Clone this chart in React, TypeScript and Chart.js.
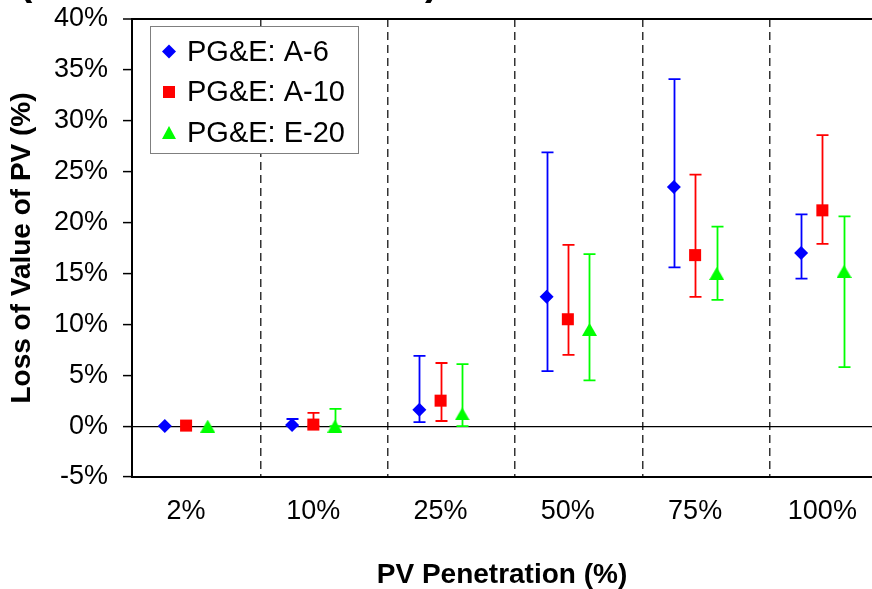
import React, { useEffect, useRef } from 'react';
import { Chart, registerables } from 'chart.js';

Chart.register(...registerables);

// ---------- data ----------
const categories = ['2%', '10%', '25%', '50%', '75%', '100%'];
const seriesNames = ['PG&E: A-6', 'PG&E: A-10', 'PG&E: E-20'];

const a6Values = [0.0, 0.1, 1.6, 12.7, 23.5, 17.0];
const a6High = [0.0, 0.7, 6.9, 26.9, 34.1, 20.8];
const a6Low = [0.0, 0.0, 0.4, 5.4, 15.6, 14.5];

const a10Values = [0.05, 0.15, 2.5, 10.5, 16.8, 21.2];
const a10High = [0.05, 1.3, 6.2, 17.8, 24.7, 28.6];
const a10Low = [0.05, 0.0, 0.5, 7.0, 12.7, 17.9];

const e20Values = [0.0, 0.0, 1.2, 9.5, 15.0, 15.2];
const e20High = [0.0, 1.7, 6.1, 16.9, 19.6, 20.6];
const e20Low = [0.0, 0.0, 0.0, 4.5, 12.4, 5.8];

const yTickMin = -5;
const yTickMax = 40;
const yTickStep = 5;

// ---------- layout / style ----------
const categoryPositions = [1, 2, 3, 4, 5, 6];
const dividerPositions = [1.585, 2.585, 3.585, 4.585, 5.585];
const seriesOffsets = [-0.167, 0, 0.17];
const colors = ['#0000FF', '#FF0000', '#00FF00'];
const FONT = "'Liberation Sans', Arial, Helvetica, sans-serif";

function makeTriangle(color: string): HTMLCanvasElement {
  const c = document.createElement('canvas');
  c.width = 15;
  c.height = 13;
  const g = c.getContext('2d')!;
  g.fillStyle = color;
  g.beginPath();
  g.moveTo(7.5, 0);
  g.lineTo(15, 13);
  g.lineTo(0, 13);
  g.closePath();
  g.fill();
  return c;
}

const isDivider = (v: number) => dividerPositions.some((d) => Math.abs(d - v) < 1e-6);

const errorBarPlugin = {
  id: 'errorBars',
  beforeDatasetsDraw(chart: any) {
    const ctx = chart.ctx;
    const yScale = chart.scales.y;
    chart.data.datasets.forEach((ds: any, i: number) => {
      const meta = chart.getDatasetMeta(i);
      meta.data.forEach((el: any, j: number) => {
        const hi = ds.errHigh[j];
        const lo = ds.errLow[j];
        if (Math.abs(hi - lo) < 0.01) return;
        const x = Math.round(el.x) + 0.5;
        const yH = yScale.getPixelForValue(hi);
        const yL = yScale.getPixelForValue(lo);
        ctx.save();
        ctx.strokeStyle = ds.borderColor;
        ctx.lineWidth = 1.8;
        ctx.beginPath();
        ctx.moveTo(x, yH);
        ctx.lineTo(x, yL);
        ctx.moveTo(x - 6, yH);
        ctx.lineTo(x + 6, yH);
        ctx.moveTo(x - 6, yL);
        ctx.lineTo(x + 6, yL);
        ctx.stroke();
        ctx.restore();
      });
    });
  },
};

const legendPlugin = {
  id: 'boxLegend',
  afterDraw(chart: any) {
    const ctx = chart.ctx;
    const left = 150.5;
    const top = 26.5;
    const w = 208;
    const h = 127;
    ctx.save();
    ctx.fillStyle = '#FFFFFF';
    ctx.fillRect(left, top, w, h);
    ctx.strokeStyle = '#7F7F7F';
    ctx.lineWidth = 1;
    ctx.strokeRect(left, top, w, h);
    const rows = [51.5, 92, 133];
    chart.data.datasets.forEach((ds: any, i: number) => {
      const cy = rows[i];
      const cx = 169;
      ctx.fillStyle = colors[i];
      ctx.beginPath();
      if (i === 0) {
        ctx.moveTo(cx, cy - 7);
        ctx.lineTo(cx + 7, cy);
        ctx.lineTo(cx, cy + 7);
        ctx.lineTo(cx - 7, cy);
      } else if (i === 1) {
        ctx.rect(cx - 6, cy - 6, 12, 12);
      } else {
        ctx.moveTo(cx, cy - 7);
        ctx.lineTo(cx + 7, cy + 6);
        ctx.lineTo(cx - 7, cy + 6);
      }
      ctx.closePath();
      ctx.fill();
      ctx.fillStyle = '#000000';
      ctx.font = `29px ${FONT}`;
      ctx.textAlign = 'left';
      ctx.textBaseline = 'middle';
      ctx.fillText(ds.label, 187, cy + 1);
    });
    ctx.restore();
  },
};

const clippedTitlePlugin = {
  id: 'clippedTitle',
  afterDraw(chart: any) {
    const ctx = chart.ctx;
    ctx.save();
    ctx.fillStyle = '#000000';
    ctx.font = `bold 40px ${FONT}`;
    ctx.textAlign = 'left';
    ctx.textBaseline = 'alphabetic';
    ctx.fillText('(', 19, -5);
    ctx.fillText(')', 425, -5);
    ctx.restore();
  },
};

export default function App() {
  const canvasRef = useRef<HTMLCanvasElement | null>(null);

  useEffect(() => {
    if (!canvasRef.current) return;
    const valueSets = [a6Values, a10Values, e20Values];
    const highSets = [a6High, a10High, e20High];
    const lowSets = [a6Low, a10Low, e20Low];
    const styles: any[] = ['rectRot', 'rect', makeTriangle(colors[2])];
    const radii = [7, 8.5, 8];

    const datasets = seriesNames.map((name, i) => ({
      label: name,
      data: valueSets[i].map((v, j) => ({ x: categoryPositions[j] + seriesOffsets[i], y: v })),
      errHigh: highSets[i],
      errLow: lowSets[i],
      showLine: false,
      pointStyle: styles[i],
      pointRadius: radii[i],
      pointBackgroundColor: colors[i],
      pointBorderColor: colors[i],
      pointBorderWidth: 0,
      backgroundColor: colors[i],
      borderColor: colors[i],
    }));

    const chart = new Chart(canvasRef.current, {
      type: 'scatter',
      data: { datasets } as any,
      plugins: [errorBarPlugin, legendPlugin, clippedTitlePlugin],
      options: {
        responsive: false,
        animation: false,
        devicePixelRatio: 1,
        layout: { autoPadding: false, padding: { top: 19, right: 0, bottom: 0, left: 0 } },
        plugins: {
          legend: { display: false },
          tooltip: { enabled: false },
          title: { display: false },
        },
        scales: {
          x: {
            type: 'linear',
            min: 0.575,
            max: 6.39,
            afterBuildTicks: (scale: any) => {
              scale.ticks = [...categoryPositions, ...dividerPositions]
                .sort((a, b) => a - b)
                .map((v) => ({ value: v }));
            },
            afterFit: (scale: any) => {
              scale.height = 112;
              scale.paddingLeft = 0;
              scale.paddingRight = 0;
            },
            ticks: {
              autoSkip: false,
              maxRotation: 0,
              padding: 18,
              color: '#000',
              font: { family: FONT, size: 27 },
              callback: (value: any) => {
                const idx = categoryPositions.findIndex((p) => Math.abs(p - value) < 1e-6);
                return idx >= 0 ? categories[idx] : '';
              },
            },
            grid: {
              display: true,
              drawOnChartArea: true,
              drawTicks: false,
              lineWidth: 1.5,
              color: (c: any) => (c.tick && isDivider(c.tick.value) ? '#333333' : 'rgba(0,0,0,0)'),
            },
            border: { display: true, color: '#000', width: 2, dash: [8, 5] },
            title: {
              display: true,
              text: 'PV Penetration (%)',
              color: '#000',
              font: { family: FONT, size: 28, weight: 'bold' },
              padding: { top: 0, bottom: -3 },
            },
          },
          y: {
            type: 'linear',
            min: yTickMin,
            max: yTickMax,
            afterFit: (scale: any) => {
              scale.width = 132;
              scale.paddingTop = 0;
              scale.paddingBottom = 0;
            },
            ticks: {
              stepSize: yTickStep,
              padding: 15,
              color: '#000',
              font: { family: FONT, size: 27 },
              callback: (v: any) => `${v}%`,
            },
            grid: {
              display: true,
              drawOnChartArea: true,
              drawTicks: true,
              tickLength: 9,
              tickColor: '#000',
              tickWidth: 1.5,
              lineWidth: (c: any) => (c.tick && c.tick.value === 40 ? 2 : 1.2),
              color: (c: any) =>
                c.tick && (c.tick.value === 0 || c.tick.value === 40) ? '#000' : 'rgba(0,0,0,0)',
            },
            border: { display: true, color: '#000', width: 2 },
            title: {
              display: true,
              text: 'Loss of Value of PV (%)',
              color: '#000',
              font: { family: FONT, size: 28, weight: 'bold' },
              padding: { top: 5, bottom: 0 },
            },
          },
        },
      } as any,
    });
    return () => chart.destroy();
  }, []);

  return (
    <div style={{ position: 'absolute', left: 0, top: 0, width: 872, height: 589, background: '#fff' }}>
      <canvas ref={canvasRef} width={872} height={589} style={{ display: 'block' }} />
    </div>
  );
}
